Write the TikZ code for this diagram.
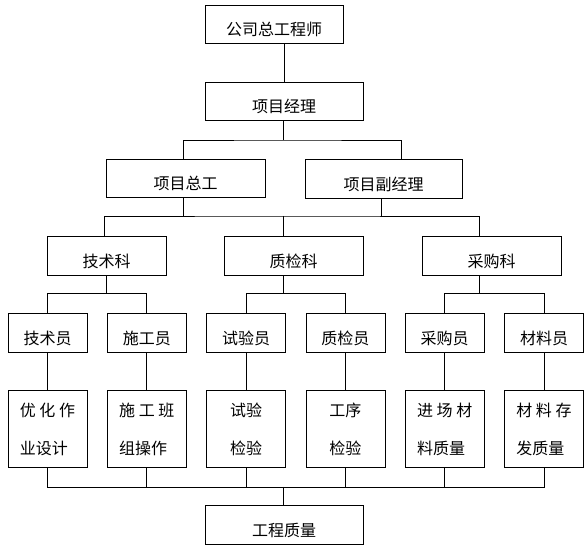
\documentclass[tikz,border=0pt]{standalone}
\usepackage{fontspec}
\newfontfamily\cjk{Noto Sans CJK SC}
\usetikzlibrary{positioning}
\tikzstyle{post} = [rectangle, draw=black, line width=0.8pt, minimum height=38pt, inner sep=1pt, font=\cjk\fontsize{16}{38}\selectfont, execute at begin node=\rule{0pt}{25pt}]
\tikzstyle{staff} = [post, minimum width=79pt, minimum height=39pt]
\tikzstyle{duty} = [post, minimum width=79pt, minimum height=77pt, align=left, execute at begin node=\rule{0pt}{32pt}]
\tikzstyle{link} = [line width=0.8pt]

\begin{document}
\begin{tikzpicture}[x=1pt, y=1pt, node distance=19.5pt]
\useasboundingbox (0,0) rectangle (587,549);
% leadership
\node (gszg) [post, minimum width=138pt] at (274,525) {公司总工程师};
\node (xmjl) [post, minimum width=158pt] at (284,448) {项目经理};
\node (xmzg) [post, minimum width=159pt] at (185.5,371) {项目总工};
\node (xmfj) [post, minimum width=157pt, minimum height=39pt] at (383.5,370.5) {项目副经理};
% departments
\node (jsk) [post, minimum width=119pt, minimum height=39pt] at (106.5,293.5) {技术科};
\node (zjk) [post, minimum width=139pt, minimum height=39pt] at (293.5,293.5) {质检科};
\node (cgk) [post, minimum width=139pt, minimum height=39pt] at (491.5,293.5) {采购科};
% staff
\node (jsy) [staff] at (47.5,216.5) {技术员};
\node (sgy) [staff, right=of jsy] {施工员};
\node (syy) [staff, right=of sgy] {试验员};
\node (zjy) [staff, right=of syy] {质检员};
\node (cgy) [staff, right=of zjy] {采购员};
\node (cly) [staff, right=of cgy] {材料员};
% duties
\node (yhzy) [duty, below=38pt of jsy] {优 化 作\\业设计};
\node (sgbz) [duty, below=38pt of sgy] {施 工 班\\组操作};
\node (syjy) [duty, below=38pt of syy] {试验\\检验};
\node (gxjy) [duty, below=38pt of zjy] {工序\\检验};
\node (jccl) [duty, below=38pt of cgy] {进 场 材\\料质量};
\node (clcf) [duty, below=38pt of cly] {材 料 存\\发质量};
\node (gczl) [post, minimum width=158pt, minimum height=39pt] at (284,24.5) {工程质量};

\coordinate (bus1) at (283,409);
\coordinate (bus2) at (283,333);
\coordinate (bus3) at (283,62);

\draw [link] (xmjl.north) -- (gszg.south -| xmjl.north);
\draw [link] (xmjl.south -| bus1) -- (bus1);
\draw [link] ([xshift=-2.5pt]xmzg.north) |- (bus1) -| ([xshift=17.5pt]xmfj.north);
\draw [link] ([xshift=-2.5pt]xmzg.south) -- ([xshift=-2.5pt]xmzg.south |- bus2);
\draw [link] ([xshift=-2.5pt]xmfj.south) -- ([xshift=-2.5pt]xmfj.south |- bus2);
\draw [link] ([xshift=-2pt]jsk.north) |- (bus2) -| ([xshift=-12.5pt]cgk.north);
\draw [link] (bus2) -- (bus2 |- zjk.north);
\draw [link] (jsk.south) -- ++(0,-18) -| (jsy.north);
\draw [link] (jsk.south) -- ++(0,-18) -| (sgy.north);
\draw [link] ([xshift=-10.5pt]zjk.south) -- ++(0,-18) -| (syy.north);
\draw [link] ([xshift=-10.5pt]zjk.south) -- ++(0,-18) -| (zjy.north);
\draw [link] ([xshift=-12.5pt]cgk.south) -- ++(0,-18) -| (cgy.north);
\draw [link] ([xshift=-12.5pt]cgk.south) -- ++(0,-18) -| (cly.north);
\draw [link] (jsy) -- (yhzy);
\draw [link] (sgy) -- (sgbz);
\draw [link] (syy) -- (syjy);
\draw [link] (zjy) -- (gxjy);
\draw [link] (cgy) -- (jccl);
\draw [link] (cly) -- (clcf);
\draw [link] (yhzy.south) |- (bus3);
\draw [link] (clcf.south) |- (bus3);
\draw [link] (sgbz.south) -- (sgbz.south |- bus3);
\draw [link] (syjy.south) -- (syjy.south |- bus3);
\draw [link] (gxjy.south) -- (gxjy.south |- bus3);
\draw [link] (jccl.south) -- (jccl.south |- bus3);
\draw [link] (bus3) -- (bus3 |- gczl.north);
\end{tikzpicture}
\end{document}
